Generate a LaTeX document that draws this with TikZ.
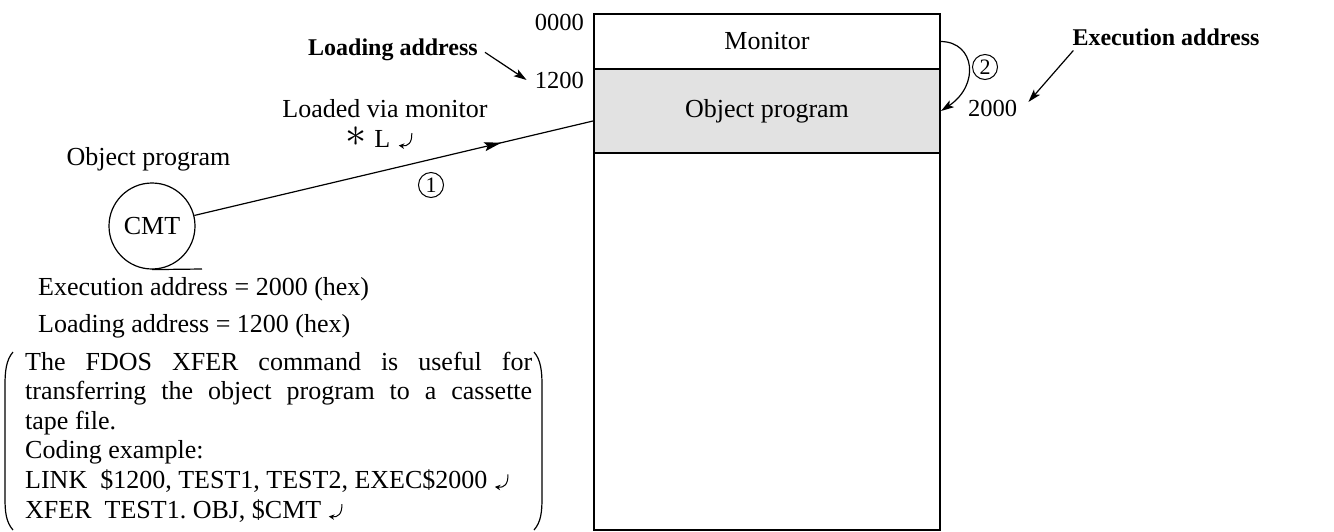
\documentclass[tikz,border=0pt]{standalone}
\usepackage{fontspec}
\setmainfont{Liberation Serif}
\usetikzlibrary{arrows.meta,decorations.markings}
\definecolor{shade}{RGB}{226,226,226}
\newcommand\retsym{\tikz[baseline=0pt,x=1pt,y=1pt]\draw[line width=1pt,-{Stealth[length=5.5pt,width=5.5pt]}] (13,14) .. controls (13.5,4) and (9,0.5) .. (0,1.5);}
\newcommand\bigast{\smash{\raisebox{1pt}{\scalebox{1.7}{$\ast$}}}}
\begin{document}
\begin{tikzpicture}[x=1pt,y=-1pt,
  txt/.style={inner sep=0pt,font=\fontsize{26}{29.6}\selectfont},
  boldlbl/.style={inner sep=0pt,font=\fontsize{24}{28}\selectfont\bfseries},
  num/.style={inner sep=0pt,font=\fontsize{24.5}{28}\selectfont},
  circnum/.style={circle,draw,line width=1pt,minimum size=25pt,inner sep=0pt,font=\fontsize{22}{22}\selectfont},
  arr/.style={line width=1.2pt,-{Stealth[length=13pt,width=8pt,inset=3pt]}},
  region/.style={draw,line width=2pt,minimum width=346pt,inner sep=0pt,anchor=north west,font=\fontsize{26}{29.6}\selectfont},
]
\useasboundingbox (0,0) rectangle (1334,531);

% memory map
\node[region,minimum height=55pt] (mon) at (593,13) {Monitor};
\node[region,minimum height=84pt,fill=shade] (obj) at (593,68) {Object program};
\node[region,minimum height=377pt] (free) at (593,152) {};

% addresses
\node[num,anchor=east] (a0) at (584,22) {0000};
\node[num,anchor=east] (a1) at (584,80) {1200};
\node[num,anchor=west] (a2) at (968,108) {2000};

% bold labels
\node[boldlbl,anchor=base] (loadlbl) at (393,55) {Loading address};
\node[boldlbl,anchor=base] (execlbl) at (1166,45) {Execution address};
\draw[arr] ([shift={(7,3)}]loadlbl.east) -- ([shift={(-8,0)}]a1.west);
\draw[arr] ([shift={(1,5)}]execlbl.south west) -- ([shift={(11,-6)}]a2.east);

% step 2
\node[circnum] (s2) at (985,67) {2};
\draw[arr] (mon.east) .. controls (975,42) and (980,85) .. (obj.east);

% CMT
\node[circle,draw,line width=1.2pt,minimum size=86pt,inner sep=0pt,font=\fontsize{26}{29.6}\selectfont] (cmt) at (152,226) {CMT};
\coordinate (tapeend) at (202,269);
\draw[line width=1.2pt] (cmt.south) -- (tapeend);
\node[txt,anchor=base] (objl) at (148.5,165) {Object program};

% step 1
\coordinate (e1) at (593,121);
\draw[line width=1.2pt,postaction={decorate,decoration={markings,mark=at position 0.77 with {\arrow{Stealth[length=17pt,width=9pt,inset=3pt]}}}}] (cmt.14) -- (e1);
\node[circnum] (s1) at (431,185) {1};
\node[txt,anchor=base] (loaded) at (385,117) {Loaded via monitor};
\node[txt,anchor=base] (cmd) at (379,147) {\bigast\hspace{8pt}L\hspace{8pt}\retsym};

% notes
\node[txt,anchor=base west] (ea) at (38,295) {Execution address = 2000 (hex)};
\node[txt,anchor=base west] (la) at (38,332) {Loading address = 1200 (hex)};
\node[txt,anchor=base west,text width=507pt,align=justify] (note) at (25,370)
  {The FDOS XFER command is useful for\linebreak
   transferring the object program to a cassette\linebreak
   tape file.\\
   Coding example:\\
   LINK\ \ \$1200, TEST1, TEST2, EXEC\$2000\hspace{7pt}\retsym\\
   XFER\ \ TEST1.\ OBJ, \$CMT\hspace{7pt}\retsym};
\draw[line width=1.2pt] (13,352) .. controls (6,360) and (5,372) .. (5,385) -- (5,498) .. controls (5,512) and (6,522) .. (13,530);
\draw[line width=1.2pt] (534,352) .. controls (541,360) and (542,372) .. (542,385) -- (542,498) .. controls (542,512) and (541,522) .. (534,530);
\end{tikzpicture}
\end{document}
